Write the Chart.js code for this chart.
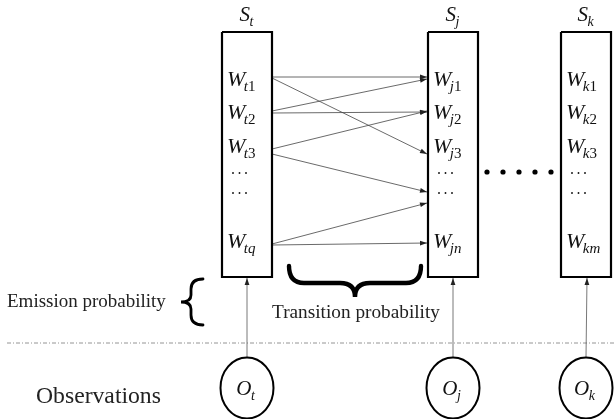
<!DOCTYPE html>
<html><head><meta charset="utf-8">
<script src="https://cdn.jsdelivr.net/npm/chart.js@4.4.1/dist/chart.umd.min.js"></script>
<style>html,body{margin:0;padding:0;background:#fff}#wrap{width:616px;height:419px;position:relative}</style>
</head><body><div id="wrap"><canvas id="c"></canvas></div>
<script>
// ---- data ----
const stateSymbols = ['t', 'j', 'k'];
const obsSymbols = ['t', 'j', 'k'];
const hiddenT = ['t1', 't2', 't3', '…', '…', 'tq'];
const hiddenJ = ['j1', 'j2', 'j3', '…', '…', 'jn'];
const hiddenK = ['k1', 'k2', 'k3', '…', '…', 'km'];
const rowY = [79, 112, 146, 173, 193, 241];
const stateX = [247, 453, 586];
const boxLeft = [222, 428, 561];
const boxRight = [272, 478, 611];
const boxTop = 32, boxBottom = 277;
const transFromY = [77, 78, 111, 113, 149, 154, 244, 245];
const transToY = [77, 154, 79, 112, 111, 192, 203, 243];
const chainDotsX = [487, 503, 519, 535, 551];
const chainDotsY = 172;
const obsY = 388;
const sectionLineY = 343;
const sideLabels = ['Emission probability', 'Transition probability', 'Observations'];

// ---- datasets ----
const datasets = [];
stateSymbols.forEach((s, i) => {
  const l = boxLeft[i], r = boxRight[i];
  datasets.push({ data: [{x:l,y:boxTop},{x:r,y:boxTop},{x:r,y:boxBottom},{x:l,y:boxBottom},{x:l,y:boxTop}],
    borderColor: '#000', borderWidth: 2.2, borderJoinStyle: 'miter', showLine: true, pointRadius: 0, fill: false });
});
transFromY.forEach((fy, i) => {
  datasets.push({ arrow: true, data: [{x: boxRight[0], y: fy}, {x: boxLeft[1] - 1, y: transToY[i]}],
    borderColor: '#444', borderWidth: 0.8, showLine: true, pointRadius: 0 });
});
stateX.forEach((x, i) => {
  datasets.push({ arrow: true, data: [{x: x, y: obsY - 31}, {x: x + (i === 2 ? 1 : 0), y: boxBottom + 1}],
    borderColor: '#555', borderWidth: 0.8, showLine: true, pointRadius: 0 });
});
datasets.push({ data: [{x: 7, y: sectionLineY}, {x: 616, y: sectionLineY}], borderColor: '#888', borderWidth: 0.9,
  borderDash: [4, 2, 1, 2], showLine: true, pointRadius: 0 });
datasets.push({ data: chainDotsX.map(x => ({x, y: chainDotsY})), showLine: false, pointRadius: 2.6,
  pointHoverRadius: 2.6, pointBackgroundColor: '#000', pointBorderWidth: 0 });

const SERIF = '"Liberation Serif", "DejaVu Serif", serif';

function drawMath(ctx, x, baseY, main, sub, size, subSize, align) {
  ctx.font = `italic ${size}px ${SERIF}`;
  const wMain = ctx.measureText(main).width;
  const pieces = sub.split('').map(c => {
    const f = /[0-9]/.test(c) ? `${subSize}px ${SERIF}` : `italic ${subSize}px ${SERIF}`;
    ctx.font = f; return { c, f, w: ctx.measureText(c).width };
  });
  const total = wMain + pieces.reduce((a, p) => a + p.w, 0) + 0.5;
  let cx = align === 'center' ? x - total / 2 : x;
  ctx.font = `italic ${size}px ${SERIF}`;
  ctx.textAlign = 'left'; ctx.textBaseline = 'alphabetic';
  ctx.fillText(main, cx, baseY);
  cx += wMain - (main === 'W' ? 1.5 : 0.5);
  pieces.forEach(p => { ctx.font = p.f; ctx.fillText(p.c, cx, baseY + size * 0.24); cx += p.w; });
}

function fitText(ctx, text, x, y, width, align) {
  ctx.font = `20px ${SERIF}`;
  const s = 20 * width / ctx.measureText(text).width;
  ctx.font = `${s}px ${SERIF}`;
  ctx.textAlign = align; ctx.textBaseline = 'middle';
  ctx.fillText(text, x, y);
}

const diagramPlugin = {
  id: 'diagram',
  afterDatasetsDraw(chart) {
    const ctx = chart.ctx, xs = chart.scales.x, ys = chart.scales.y;
    const X = v => xs.getPixelForValue(v), Y = v => ys.getPixelForValue(v);
    ctx.save();
    // arrowheads
    chart.data.datasets.forEach((ds, i) => {
      if (!ds.arrow) return;
      const pts = chart.getDatasetMeta(i).data;
      const a = pts[pts.length - 2], b = pts[pts.length - 1];
      const ang = Math.atan2(b.y - a.y, b.x - a.x), L = 7, H = 2.4;
      ctx.fillStyle = '#222';
      ctx.beginPath();
      ctx.moveTo(b.x, b.y);
      ctx.lineTo(b.x - L * Math.cos(ang) + H * Math.sin(ang), b.y - L * Math.sin(ang) - H * Math.cos(ang));
      ctx.lineTo(b.x - L * Math.cos(ang) - H * Math.sin(ang), b.y - L * Math.sin(ang) + H * Math.cos(ang));
      ctx.closePath(); ctx.fill();
    });
    ctx.fillStyle = '#111';
    // state labels
    stateSymbols.forEach((s, i) => drawMath(ctx, X(stateX[i]), Y(21), 'S', s, 21, 14, 'center'));
    // hidden labels
    [hiddenT, hiddenJ, hiddenK].forEach((col, i) => {
      col.forEach((lab, r) => {
        if (lab === '…') {
          [0, 6.5, 13].forEach(dx => { ctx.beginPath(); ctx.arc(X(boxLeft[i] + 11 + dx), Y(rowY[r]), 0.95, 0, Math.PI * 2); ctx.fill(); });
        } else {
          drawMath(ctx, X(boxLeft[i] + 5), Y(rowY[r] + 7), 'W', lab, 22, 15, 'left');
        }
      });
    });
    // observation ellipses
    ctx.strokeStyle = '#000'; ctx.lineWidth = 2;
    obsSymbols.forEach((s, i) => {
      ctx.beginPath();
      ctx.ellipse(X(stateX[i]), Y(obsY), 26.5, 30.5, 0, 0, Math.PI * 2);
      ctx.stroke();
      drawMath(ctx, X(stateX[i]) - 1, Y(obsY + 7), 'O', s, 21, 14, 'center');
    });
    // side texts
    ctx.fillStyle = '#222';
    fitText(ctx, sideLabels[0], X(7), Y(302), 159, 'left');
    fitText(ctx, sideLabels[1], X(356), Y(313), 168, 'center');
    fitText(ctx, sideLabels[2], X(36), Y(397), 125, 'left');
    // horizontal brace (transition)
    ctx.strokeStyle = '#000'; ctx.lineCap = 'round';
    const x0 = X(289), x1 = X(421), xc = X(355), yT = Y(266), yM = Y(283), yP = Y(297), r = 15;
    ctx.lineWidth = 4.4;
    ctx.beginPath();
    ctx.moveTo(x0, yT);
    ctx.quadraticCurveTo(x0, yM, x0 + r, yM);
    ctx.lineTo(xc - r, yM);
    ctx.quadraticCurveTo(xc, yM, xc, yP);
    ctx.quadraticCurveTo(xc, yM, xc + r, yM);
    ctx.lineTo(x1 - r, yM);
    ctx.quadraticCurveTo(x1, yM, x1, yT);
    ctx.stroke();
    // vertical brace (emission)
    const bx = X(191), bt = Y(279), bb = Y(325), bm = Y(302), bTip = X(181), bEnd = X(203);
    ctx.lineWidth = 2.8;
    ctx.beginPath();
    ctx.moveTo(bEnd, bt);
    ctx.quadraticCurveTo(bx, bt, bx, bt + 10);
    ctx.lineTo(bx, bm - 7);
    ctx.quadraticCurveTo(bx, bm, bTip, bm);
    ctx.quadraticCurveTo(bx, bm, bx, bm + 7);
    ctx.lineTo(bx, bb - 10);
    ctx.quadraticCurveTo(bx, bb, bEnd, bb);
    ctx.stroke();
    ctx.restore();
  }
};

new Chart(document.getElementById('c'), {
  type: 'scatter',
  data: { datasets },
  options: {
    responsive: true, maintainAspectRatio: false, animation: false, events: [],
    layout: { padding: 0, autoPadding: false },
    elements: { line: { tension: 0 } },
    plugins: { legend: { display: false }, tooltip: { enabled: false } },
    scales: {
      x: { type: 'linear', min: 0, max: 616, display: false },
      y: { type: 'linear', min: 0, max: 419, reverse: true, display: false }
    }
  },
  plugins: [diagramPlugin]
});
</script></body></html>
